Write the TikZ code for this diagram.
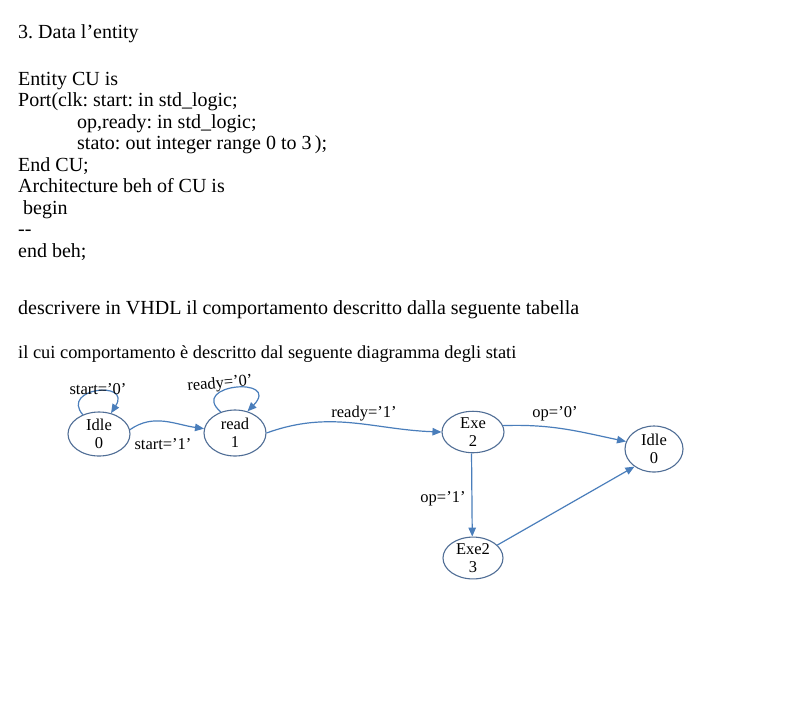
\documentclass[tikz,border=0pt]{standalone}
\usepackage{fontspec}
\setmainfont{Liberation Serif}
\usetikzlibrary{arrows.meta,shapes.geometric}
\definecolor{edgeblue}{RGB}{74,126,187}
\definecolor{nodeblue}{RGB}{80,110,150}
\frenchspacing
\begin{document}
\begin{tikzpicture}[x=1pt,y=1pt,
  txt/.style={anchor=base west,inner sep=0pt,font=\fontsize{20}{21}\selectfont},
  state/.style={ellipse,draw=nodeblue,line width=1.1pt,inner sep=0pt,align=center,
     font=\fontsize{16.5}{18.5}\selectfont},
  arr/.style={draw=edgeblue,line width=1.2pt,-{Triangle[length=9pt,width=7.5pt]},color=edgeblue},
  lbl/.style={inner sep=0pt,font=\fontsize{16.5}{18}\selectfont}]
\useasboundingbox (0,0) rectangle (791,-713);
\fill[white] (0,0) rectangle (791,-713);
% text
\node[txt] (t0) at (18,-38) {3. Data l’entity};
\node[txt] (t1) at (18,-85) {Entity CU is};
\node[txt] (t2) at (18,-106.5) {Port(clk: start: in std\_logic;};
\node[txt] (t3) at (77,-128) {op,ready: in std\_logic;};
\node[txt] (t4) at (77,-149.5) {stato: out integer range 0 to 3\,);};
\node[txt] (t5) at (18,-171) {End CU;};
\node[txt] (t6) at (18,-192.5) {Architecture beh of CU is};
\node[txt] (t7) at (23,-214) {begin};
\node[txt] (t8) at (18,-235.5) {-{}-};
\node[txt] (t9) at (18,-257) {end beh;};
\node[txt] (t10) at (18,-314) {descrivere in VHDL il comportamento descritto dalla seguente tabella};
\node[txt,font=\fontsize{18.4}{20}\selectfont] (t11) at (18,-358) {il cui comportamento è descritto dal seguente diagramma degli stati};
% states
\node[state,minimum width=62pt,minimum height=44pt] (idleA) at (99,-434) {Idle\\0};
\node[state,minimum width=62pt,minimum height=46pt] (readN) at (235,-433) {read\\1};
\node[state,minimum width=62pt,minimum height=40pt] (exe) at (473,-432) {Exe\\2};
\node[state,minimum width=58pt,minimum height=46pt] (idleB) at (654,-449) {Idle\\0};
\node[state,minimum width=60pt,minimum height=40pt] (exe2) at (473,-558) {Exe2\\3};
% loops
\draw[arr] (idleA.130) .. controls (60,-388) and (132,-380) .. (idleA.60);
\draw[arr] (readN.124) .. controls (188,-384) and (282,-376) .. (readN.60);
% edges
\draw[arr] (idleA.8) to[out=35,in=172] (readN.172);
\draw[arr] (readN.east) to[out=20,in=178] (exe.west);
\draw[arr] (exe.12) to[out=2,in=168] (idleB.165);
\draw[arr] (exe.266) -- (exe2.92);
\draw[arr] (exe2.28) -- (idleB.222);
% labels
\node[lbl] (l1) at (98,-389) {start=’0’};
\node[lbl,rotate=5] (l2) at (220,-384) {ready=’0’};
\node[lbl] (l3) at (163,-444) {start=’1’};
\node[lbl] (l4) at (364,-414) {ready=’1’};
\node[lbl] (l5) at (555,-414) {op=’0’};
\node[lbl] (l6) at (443,-499) {op=’1’};
\end{tikzpicture}
\end{document}
